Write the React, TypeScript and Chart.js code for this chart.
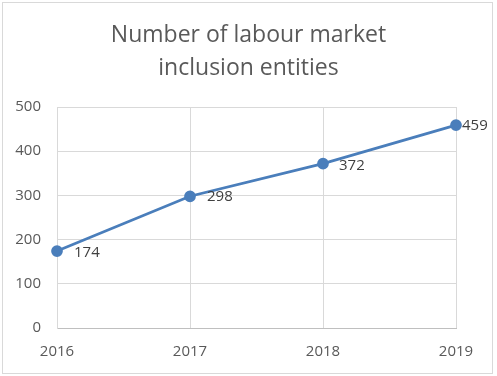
import React, { useEffect, useRef } from "react";
import { Chart, registerables } from "chart.js";

Chart.register(...registerables);

const years = ["2016", "2017", "2018", "2019"];
const entities = [174, 298, 372, 459];
const titleLines = ["Number of labour market", "inclusion entities"];
const yTicks = { min: 0, max: 500, step: 100 };

const LINE = "#4A7EBB";
const FONT = "'Open Sans', 'Noto Sans', sans-serif";

const frame = {
  id: "frame",
  beforeDraw(chart: any) {
    const ctx = chart.ctx;
    ctx.save();
    ctx.fillStyle = "#ffffff";
    ctx.fillRect(0, 0, chart.width, chart.height);
    ctx.strokeStyle = "#d9d9d9";
    ctx.lineWidth = 1;
    ctx.strokeRect(2.5, 2.5, 490, 371);
    ctx.fillStyle = "#595959";
    ctx.font = `23px ${FONT}`;
    ctx.textAlign = "center";
    ctx.textBaseline = "middle";
    titleLines.forEach((t, i) => ctx.fillText(t, chart.width / 2, 35 + i * 33));
    ctx.restore();
  },
};

const labelDx = [17, 17, 16, 6];
const labelDy = [2, 0, 2, 1];

const valueLabels = {
  id: "valueLabels",
  afterDatasetsDraw(chart: any) {
    const ctx = chart.ctx;
    const meta = chart.getDatasetMeta(0);
    ctx.save();
    ctx.font = `15px ${FONT}`;
    ctx.fillStyle = "#404040";
    ctx.textAlign = "left";
    ctx.textBaseline = "middle";
    meta.data.forEach((pt: any, i: number) => {
      ctx.fillText(String(entities[i]), pt.x + labelDx[i], pt.y + labelDy[i]);
    });
    ctx.restore();
  },
};

export default function App() {
  const ref = useRef<HTMLCanvasElement | null>(null);
  useEffect(() => {
    document.body.style.margin = "0";
    const chart = new Chart(ref.current!, {
      type: "line",
      data: {
        labels: years,
        datasets: [
          {
            data: entities,
            borderColor: LINE,
            backgroundColor: LINE,
            borderWidth: 2.75,
            pointRadius: 4.5,
            pointHoverRadius: 4.5,
            pointBackgroundColor: LINE,
            pointBorderColor: LINE,
            tension: 0,
          },
        ],
      },
      options: {
        responsive: false,
        animation: false,
        layout: { padding: { left: 0, right: 41, top: 107, bottom: 0 } },
        plugins: {
          legend: { display: false },
          tooltip: { enabled: false },
          title: { display: false },
        },
        scales: {
          x: {
            offset: false,
            grid: { color: "#d9d9d9", drawTicks: false },
            border: { color: "#bfbfbf" },
            ticks: { color: "#595959", font: { family: FONT, size: 15 }, padding: 15, maxRotation: 0 },
            afterFit(scale: any) {
              scale.height = 48;
            },
          },
          y: {
            min: yTicks.min,
            max: yTicks.max,
            grid: { color: "#d9d9d9", drawTicks: false },
            border: { color: "#d9d9d9" },
            ticks: { stepSize: yTicks.step, color: "#595959", font: { family: FONT, size: 15 }, padding: 16 },
            afterFit(scale: any) {
              scale.width = 57;
            },
          },
        },
      },
      plugins: [frame, valueLabels],
    });
    return () => chart.destroy();
  }, []);
  return <canvas ref={ref} width={497} height={376} style={{ display: "block" }} />;
}
